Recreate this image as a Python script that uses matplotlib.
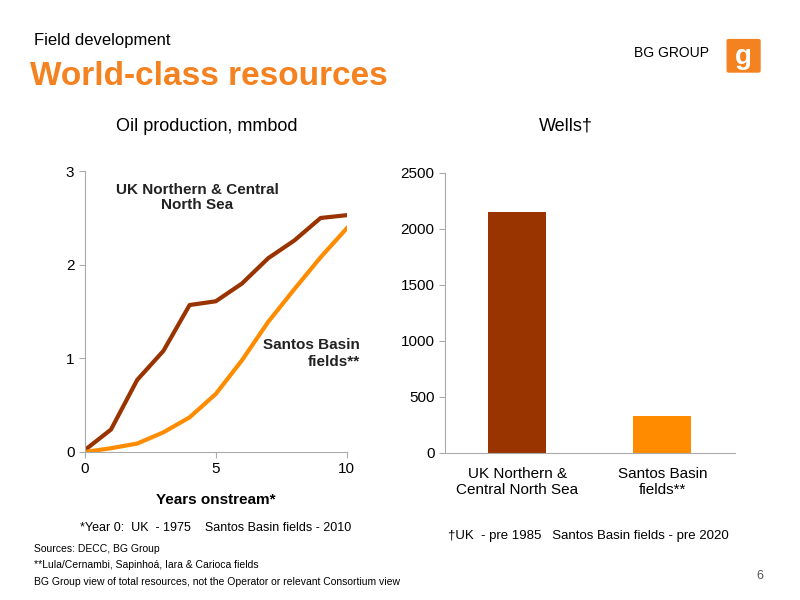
import matplotlib
matplotlib.use("Agg")
import matplotlib.pyplot as plt
from matplotlib.patches import FancyBboxPatch

plt.rcParams['font.family'] = ['Liberation Sans', 'DejaVu Sans']

years = list(range(11))
uk_prod = [0.02, 0.24, 0.77, 1.08, 1.57, 1.61, 1.80, 2.07, 2.26, 2.50, 2.53]
santos_prod = [0.0, 0.04, 0.09, 0.21, 0.37, 0.62, 0.98, 1.39, 1.74, 2.08, 2.39]
well_cats = ["UK Northern &\nCentral North Sea", "Santos Basin\nfields**"]
wells = [2150, 330]

dark = "#993300"
orange = "#FF8C00"

fig = plt.figure(figsize=(8, 6), dpi=100)

fig.text(0.043, 0.925, "Field development", fontsize=12, color="black")
fig.text(0.038, 0.858, "World-class resources", fontsize=24, fontweight="bold", color="#F58220")
fig.text(0.84, 0.905, "BG GROUP", fontsize=10, color="black", ha="center")
logo = FancyBboxPatch((0.911, 0.882), 0.037, 0.05, boxstyle="round,pad=0.002",
                      transform=fig.transFigure, color="#F58220")
fig.add_artist(logo)
fig.text(0.929, 0.905, "g", fontsize=20, color="white", fontweight="bold", ha="center", va="center")

# Left chart
ax1 = fig.add_axes([0.106, 0.2467, 0.3275, 0.468])
ax1.plot(years, uk_prod, color=dark, lw=3)
ax1.plot(years, santos_prod, color=orange, lw=3)
ax1.set_xlim(0, 10)
ax1.set_ylim(0, 3)
ax1.set_xticks([0, 5, 10])
ax1.set_yticks([0, 1, 2, 3])
for s in ["top", "right"]:
    ax1.spines[s].set_visible(False)
for s in ["left", "bottom"]:
    ax1.spines[s].set_color("#aaaaaa")
ax1.tick_params(colors="#aaaaaa", labelcolor="black", labelsize=11, length=4)
ax1.set_xlabel("Years onstream*", fontsize=11, fontweight="bold", labelpad=12)
ax1.text(4.3, 2.6, "UK Northern & Central\nNorth Sea", ha="center", fontsize=11,
         fontweight="bold", color="#222222", linespacing=1.1)
ax1.text(10.5, 0.92, "Santos Basin\nfields**", ha="right", fontsize=11,
         fontweight="bold", color="#222222", linespacing=1.3)
fig.text(0.259, 0.782, "Oil production, mmbod", ha="center", fontsize=13)
fig.text(0.27, 0.115, "*Year 0:  UK  - 1975    Santos Basin fields - 2010", ha="center", fontsize=9)

# Right chart
ax2 = fig.add_axes([0.556, 0.245, 0.3625, 0.4667])
ax2.bar([0, 1], wells, width=0.4, color=[dark, orange])
ax2.set_xlim(-0.5, 1.5)
ax2.set_ylim(0, 2500)
ax2.set_yticks([0, 500, 1000, 1500, 2000, 2500])
ax2.set_xticks([0, 1])
ax2.set_xticklabels(well_cats, fontsize=11)
for s in ["top", "right"]:
    ax2.spines[s].set_visible(False)
for s in ["left", "bottom"]:
    ax2.spines[s].set_color("#aaaaaa")
ax2.tick_params(axis="y", colors="#aaaaaa", labelcolor="black", labelsize=11, length=4)
ax2.tick_params(axis="x", length=0, labelsize=11, pad=10)
fig.text(0.707, 0.782, "Wells\u2020", ha="center", fontsize=13)
fig.text(0.735, 0.102, "\u2020UK  - pre 1985   Santos Basin fields - pre 2020", ha="center", fontsize=9.5)

fig.text(0.043, 0.08, "Sources: DECC, BG Group", fontsize=7.5)
fig.text(0.043, 0.053, "**Lula/Cernambi, Sapinhoá, Iara & Carioca fields", fontsize=7.5)
fig.text(0.043, 0.025, "BG Group view of total resources, not the Operator or relevant Consortium view", fontsize=7.5)
fig.text(0.945, 0.035, "6", fontsize=9, color="#555555")

fig.savefig("out.png", dpi=100)
